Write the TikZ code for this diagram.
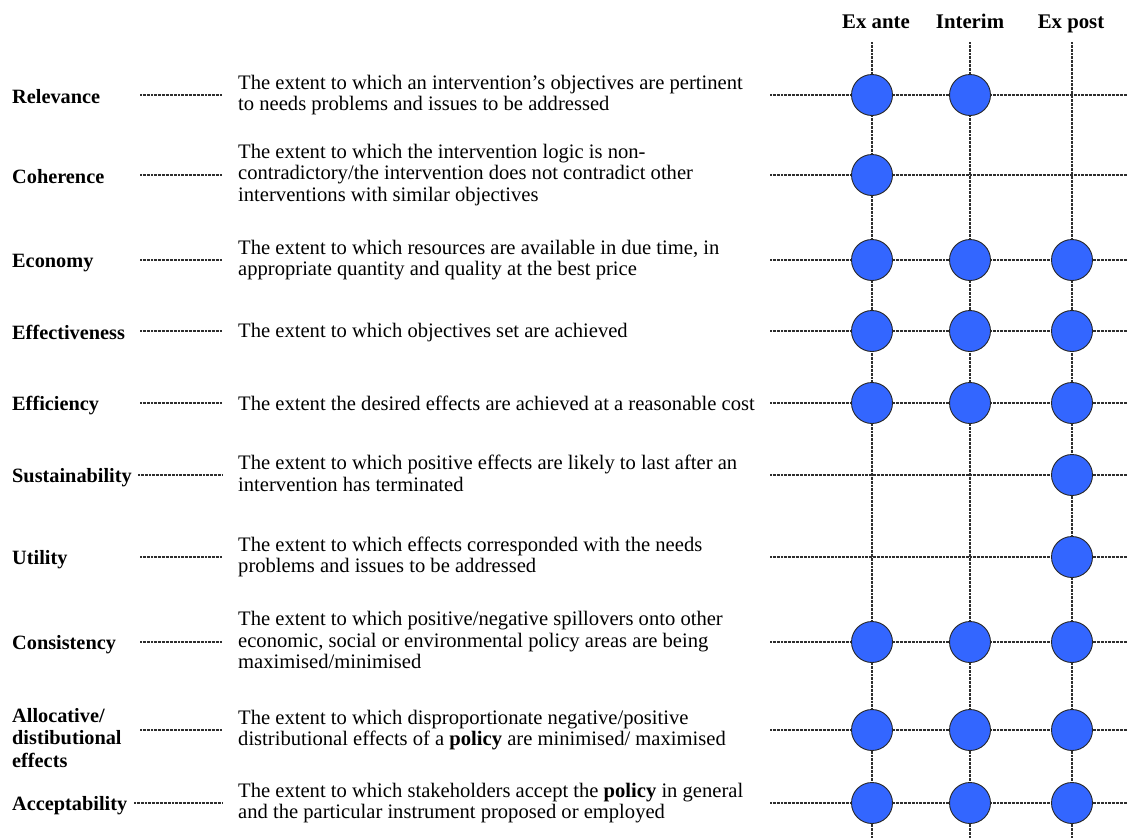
\documentclass[tikz,border=0pt]{standalone}
\usepackage{fontspec}
\setmainfont{Liberation Serif}
\definecolor{dotblue}{RGB}{51,102,255}
\newcommand{\labstrut}{\rule[-3pt]{0pt}{22pt}}
\newcommand{\descstrut}{\rule[-3.5pt]{0pt}{21.2pt}}
\begin{document}
\begin{tikzpicture}[x=1pt,y=-1pt,
  lab/.style={anchor=west,inner sep=0pt,font=\bfseries\fontsize{20.3}{22.5}\selectfont,align=left,
    execute at begin node=\labstrut, execute at end node=\labstrut},
  desc/.style={anchor=west,inner sep=0pt,font=\fontsize{20.6}{21.5}\selectfont,align=left,
    execute at begin node=\descstrut, execute at end node=\descstrut},
  gridline/.style={line width=1.4pt,black!82,dash pattern=on 0.9pt off 0.45pt},
  dot/.style={circle,draw=black!85,line width=0.9pt,fill=dotblue,minimum size=41pt,inner sep=0pt},
  head/.style={font=\bfseries\fontsize{20.8}{22}\selectfont,inner sep=0pt,anchor=base}]
\useasboundingbox (0,0) rectangle (1127,838);
% headers
\node[head] (hA) at (876,28) {Ex ante};
\node[head] (hI) at (970,28) {Interim};
\node[head] (hP) at (1071,28) {Ex post};
% vertical lines
\coordinate (vtA) at (872,42); \coordinate (vbA) at (872,838);
\coordinate (vtI) at (970,42); \coordinate (vbI) at (970,838);
\coordinate (vtP) at (1072,42); \coordinate (vbP) at (1072,838);
\draw[gridline] (vtA) -- (vbA);
\draw[gridline] (vtI) -- (vbI);
\draw[gridline] (vtP) -- (vbP);
% right horizontal lines
\foreach \n/\y in {1/95,2/175,3/260,4/331,5/403,6/475,7/557,8/642,9/730,10/803}{
  \coordinate (ra\n) at (770,\y);
  \coordinate (rb\n) at (1127,\y);
  \draw[gridline] (ra\n) -- (rb\n);
}
% labels
\node[lab] (L1) at (12,95) {Relevance};
\node[lab] (L2) at (12,175) {Coherence};
\node[lab] (L3) at (12,260) {Economy};
\node[lab] (L4) at (12,331) {Effectiveness};
\node[lab] (L5) at (12,403) {Efficiency};
\node[lab] (L6) at (12,475) {Sustainability};
\node[lab] (L7) at (12,557) {Utility};
\node[lab] (L8) at (12,642) {Consistency};
\node[lab] (L9) at (12,739) {Allocative/\\distibutional\\effects};
\node[lab] (L10) at (12,803) {Acceptability};
% descriptions
\node[desc] (D1) at (238,95) {The extent to which an intervention’s objectives are pertinent\\to needs problems and issues to be addressed};
\node[desc] (D2) at (238,175) {The extent to which the intervention logic is non-\\contradictory/the intervention does not contradict other\\interventions with similar objectives};
\node[desc] (D3) at (238,260) {The extent to which resources are available in due time, in\\appropriate quantity and quality at the best price};
\node[desc] (D4) at (238,331) {The extent to which objectives set are achieved};
\node[desc] (D5) at (238,403) {The extent the desired effects are achieved at a reasonable cost};
\node[desc] (D6) at (238,475) {The extent to which positive effects are likely to last after an\\intervention has terminated};
\node[desc] (D7) at (238,557) {The extent to which effects corresponded with the needs\\problems and issues to be addressed};
\node[desc] (D8) at (238,642) {The extent to which positive/negative spillovers onto other\\economic, social or environmental policy areas are being\\maximised/minimised};
\node[desc] (D9) at (238,730) {The extent to which disproportionate negative/positive\\distributional effects of a \textbf{policy} are minimised/ maximised};
\node[desc] (D10) at (238,803) {The extent to which stakeholders accept the \textbf{policy} in general\\and the particular instrument proposed or employed};
% left connectors
\foreach \n/\x/\y in {1/140/95,2/140/175,3/140/260,4/140/331,5/140/403,6/138/475,7/140/557,8/140/642,9/140/730,10/134/803}{
  \coordinate (la\n) at (\x,\y);
  \coordinate (lb\n) at (222,\y);
  \draw[gridline] (la\n) -- (lb\n);
}
% circles
\foreach \n/\cols in {1/{A,I},2/{A},3/{A,I,P},4/{A,I,P},5/{A,I,P},6/{P},7/{P},8/{A,I,P},9/{A,I,P},10/{A,I,P}}{
  \foreach \c in \cols {
    \node[dot] (c\n\c) at (vt\c |- ra\n) {};
  }
}
\end{tikzpicture}
\end{document}
